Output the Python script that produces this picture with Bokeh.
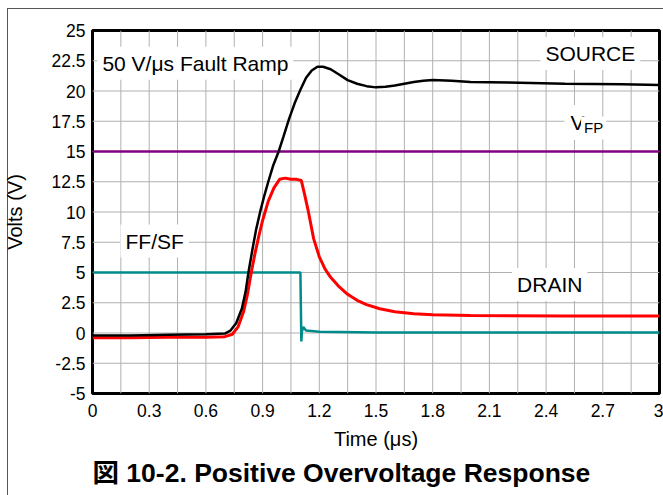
from bokeh.plotting import figure
from bokeh.models import FixedTicker, PrintfTickFormatter, Label, Title, Range1d
from bokeh.embed import file_html
from bokeh.resources import INLINE

# ---- data ----
t_source = [0.0, 0.2, 0.4, 0.6, 0.70, 0.73, 0.76, 0.79, 0.81, 0.825, 0.845, 0.865, 0.89, 0.91, 0.93,
            0.955, 0.985, 1.01, 1.04, 1.07, 1.10, 1.13, 1.16, 1.19, 1.22, 1.26, 1.30, 1.35, 1.40,
            1.45, 1.50, 1.55, 1.60, 1.65, 1.70, 1.75, 1.80, 1.90, 2.00, 2.20, 2.50, 2.80, 3.00]
v_source = [-0.2, -0.2, -0.15, -0.1, -0.05, 0.2, 0.8, 2.0, 3.4, 5.0, 6.8, 8.5, 10.2, 11.4, 12.5,
            13.8, 15.0, 16.2, 17.7, 19.0, 20.1, 21.1, 21.7, 22.0, 22.0, 21.8, 21.4, 20.9, 20.6,
            20.4, 20.3, 20.35, 20.45, 20.6, 20.75, 20.85, 20.9, 20.85, 20.75, 20.7, 20.6, 20.55, 20.5]

t_drain = [0.0, 0.2, 0.4, 0.6, 0.70, 0.74, 0.77, 0.80, 0.82, 0.84, 0.86, 0.88, 0.90, 0.93, 0.96,
           0.99, 1.02, 1.05, 1.08, 1.105, 1.12, 1.14, 1.17, 1.20, 1.23, 1.26, 1.30, 1.35, 1.40,
           1.45, 1.52, 1.60, 1.70, 1.80, 2.00, 2.50, 3.00]
v_drain = [-0.4, -0.4, -0.35, -0.35, -0.3, -0.1, 0.5, 1.8, 3.2, 5.0, 6.6, 8.0, 9.3, 10.9, 12.0,
           12.7, 12.8, 12.7, 12.7, 12.6, 11.6, 10.2, 7.8, 6.3, 5.3, 4.6, 3.9, 3.2, 2.7,
           2.35, 2.0, 1.75, 1.6, 1.5, 1.45, 1.4, 1.4]

t_ffsf = [0.0, 1.10, 1.105, 1.108, 1.115, 1.13, 1.20, 1.50, 2.00, 3.00]
v_ffsf = [5.0, 5.0, -0.7, 0.1, 0.5, 0.2, 0.1, 0.05, 0.05, 0.05]

t_vfp = [0.0, 3.0]
v_vfp = [15.0, 15.0]

x_ticks = [0, 0.3, 0.6, 0.9, 1.2, 1.5, 1.8, 2.1, 2.4, 2.7, 3.0]
y_ticks = [-5, -2.5, 0, 2.5, 5, 7.5, 10, 12.5, 15, 17.5, 20, 22.5, 25]

FONT = "Liberation Sans"
X0, X1, Y0, Y1 = 0, 3, -5, 25

bg = ("linear-gradient(#555,#555) 7px 8px / 1px 100% no-repeat, "
      "linear-gradient(#555,#555) 7px 8px / 100% 1px no-repeat, white")

p = figure(width=663, height=495, output_backend="svg", toolbar_location=None,
           x_range=Range1d(X0, X1), y_range=Range1d(Y0, Y1),
           min_border_left=92, min_border_right=4, min_border_top=30, min_border_bottom=102,
           border_fill_color=None, background_fill_color="white",
           styles={"background": bg})

p.outline_line_color = "black"
p.outline_line_width = 3

# axes / ticks
p.xaxis.ticker = FixedTicker(ticks=x_ticks)
p.yaxis.ticker = FixedTicker(ticks=y_ticks)
p.xaxis.formatter = PrintfTickFormatter(format="%g")
p.yaxis.formatter = PrintfTickFormatter(format="%g")
for ax in (p.xaxis, p.yaxis):
    ax.axis_line_color = None
    ax.major_tick_line_color = None
    ax.minor_tick_line_color = None
    ax.major_label_text_font = FONT
    ax.major_label_text_font_size = "17.5px"
    ax.major_label_text_color = "black"
    ax.axis_label_text_font = FONT
    ax.axis_label_text_font_size = "20px"
    ax.axis_label_text_font_style = "normal"
    ax.axis_label_text_color = "black"
p.xaxis.major_label_standoff = 4
p.yaxis.major_label_standoff = 1
p.xaxis.axis_label = "Time (μs)"
p.xaxis.axis_label_standoff = 8
p.yaxis.axis_label = "Volts (V)"
p.yaxis.axis_label_standoff = 22

# grid drawn as glyphs (every 0.15 µs and every 2.5 V)
p.xgrid.grid_line_color = None
p.ygrid.grid_line_color = None
grid_x = [round(0.15 * i, 2) for i in range(1, 20)]
grid_y = y_ticks[1:-1]
p.multi_line(xs=[[g, g] for g in grid_x], ys=[[Y0, Y1]] * len(grid_x),
             line_color="#b0b0b0", line_width=1)
p.multi_line(xs=[[X0, X1]] * len(grid_y), ys=[[g, g] for g in grid_y],
             line_color="#b0b0b0", line_width=1)

# lines
p.line(t_vfp, v_vfp, line_color="#800080", line_width=2.5)
p.line(t_ffsf, v_ffsf, line_color="#008a8a", line_width=2.5)
p.line(t_drain, v_drain, line_color="#ff0000", line_width=3)
p.line(t_source, v_source, line_color="black", line_width=2.5)

def lab(x, y, text, size="21px", pad=5):
    l = Label(x=x, y=y, text=text, text_font=FONT, text_font_size=size,
              text_baseline="middle", text_align="left", text_color="black",
              background_fill_color="white", padding=pad)
    p.add_layout(l)
    return l

lab(0.026, 22.3, "50 V/μs Fault Ramp")
lab(2.37, 23.1, "SOURCE")
lab(2.497, 17.4, "V", pad=6)
lab(2.585, 16.95, "FP", size="15px", pad=3)
lab(0.148, 7.6, "FF/SF")
lab(2.22, 4.0, "DRAIN")

p.add_layout(Title(text="図 10-2. Positive Overvoltage Response", align="left",
                   text_font="Liberation Sans, Noto Sans CJK JP", text_font_size="26.5px",
                   text_font_style="bold", text_color="black", offset=0,
                   standoff=7), "below")

open("out.html", "w").write(file_html(p, INLINE))
